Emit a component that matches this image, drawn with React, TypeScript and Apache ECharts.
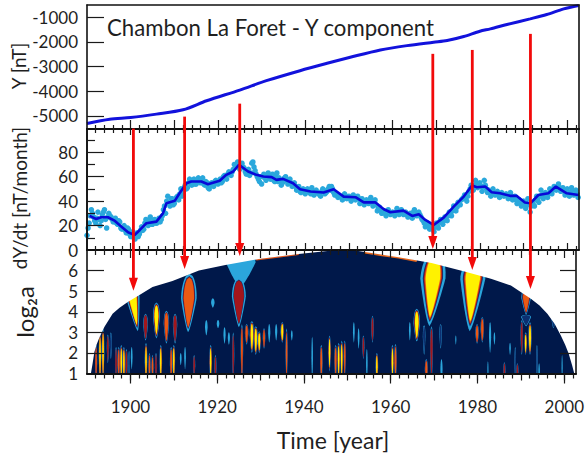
import React, { useEffect, useRef } from "react";
import * as echarts from "echarts";

const FONT = "Lato, 'Open Sans', sans-serif";
const INK = "#1f1f1f";
const X_MIN = 1890;
const X_MAX = 2002.7;

const yearLabels = [1900, 1920, 1940, 1960, 1980, 2000];
const decadeTicks = [1900, 1910, 1920, 1930, 1940, 1950, 1960, 1970, 1980, 1990, 2000];
const minorYearTicks = [1892, 1894, 1896, 1898, 1902, 1904, 1906, 1908, 1912, 1914, 1916, 1918, 1922, 1924, 1926, 1928, 1932, 1934, 1936, 1938, 1942, 1944, 1946, 1948, 1952, 1954, 1956, 1958, 1962, 1964, 1966, 1968, 1972, 1974, 1976, 1978, 1982, 1984, 1986, 1988, 1992, 1994, 1996, 1998, 2002];

const yTicks = [-5000, -4000, -3000, -2000, -1000];
const rateLabels = [0, 20, 40, 60, 80];
const rateLongTicks = [20, 40, 60, 80];
const rateShortTicks = [10, 30, 50, 70, 90];
const scaleLabels = [1, 2, 3, 4, 5, 6];
const scaleTicks = [2, 3, 4, 5, 6];

const yComponent: number[][] = [
  [1890, -5312], [1895.2, -5136], [1900, -5068], [1905.9, -4932], [1912, -4756], [1917.4, -4390],
  [1925, -3956], [1931.1, -3576], [1938.8, -3170], [1945, -2871], [1950.3, -2627], [1957.2, -2329],
  [1963.3, -2153], [1969.4, -2017], [1972.5, -1949], [1976.3, -1786], [1980, -1570], [1982.4, -1475],
  [1986.2, -1298], [1991.5, -1068], [1995.3, -892], [1999.2, -661], [2002.6, -525],
];

const rateSmooth: number[][] = [
  [1890.6, 27.9], [1892.1, 25.4], [1893.2, 26.8], [1894.8, 26.8], [1896.4, 23.8], [1897.9, 19.1], [1899.4, 14.5],
  [1900.9, 12.3], [1902.1, 16.4], [1903.6, 21.9], [1905.9, 23.2], [1907.4, 30], [1908.2, 38.3], [1910.1, 40.2],
  [1911.2, 46.4], [1912.8, 54.6], [1913.9, 56], [1916.2, 56], [1917.7, 53.8], [1920.4, 56.6], [1921.9, 61.5],
  [1923.5, 64.2], [1924.8, 69.7], [1926.9, 64.2], [1928.8, 61.5], [1930.4, 60.1], [1932.3, 59.6], [1933.4, 57.4],
  [1934.9, 58.2], [1937.2, 54.6], [1938.8, 49.7], [1941.2, 47.8], [1944.2, 47], [1946.5, 49.7], [1948.8, 43.7],
  [1951.5, 43.2], [1953.4, 39], [1956, 39], [1958, 33.3], [1959.5, 30.9], [1962.5, 32.2], [1964.5, 27.9],
  [1966, 29.2], [1967.5, 24.6], [1969.4, 20.5], [1971.7, 26.5], [1974, 35.5], [1976.3, 43.7], [1978.2, 52.7],
  [1979.3, 51.4], [1981.2, 51.9], [1982.7, 47.3], [1984.6, 46.4], [1986.9, 44.3], [1988.4, 44.3], [1990.3, 38.8],
  [1991.6, 38.3], [1993.4, 45], [1995.7, 46.4], [1997.4, 51.9], [1999.9, 46.4], [2002.6, 45],
];

// Half-yearly readings of the noisy monthly band, starting at 1890.0
const rateDots = [
  12, 22, 33, 27, 22, 31, 20, 29, 33, 18, 30, 27, 23, 26, 21, 23, 17, 20, 14, 17,
  11, 15, 9, 14, 13, 19, 17, 25, 20, 27, 21, 25, 22, 26, 25, 33, 30, 44, 36, 42,
  38, 43, 41, 50, 47, 53, 51, 58, 53, 58, 54, 59, 55, 59, 53, 55, 50, 55, 52, 57,
  54, 58, 56, 61, 58, 64, 61, 66, 68, 72, 66, 71, 67, 62, 66, 63, 72, 65, 60, 56,
  54, 62, 57, 63, 58, 62, 56, 63, 59, 53, 56, 60, 54, 58, 52, 55, 49, 52, 47, 50,
  46, 50, 47, 51, 45, 49, 46, 44, 50, 46, 48, 52, 52, 47, 46, 43, 44, 41, 46, 42,
  44, 40, 45, 41, 44, 38, 42, 37, 41, 38, 43, 36, 41, 32, 35, 30, 32, 28, 33, 29,
  31, 28, 34, 29, 33, 29, 31, 27, 30, 26, 33, 28, 31, 27, 24, 19, 22, 17, 20, 15,
  22, 18, 25, 21, 27, 24, 31, 28, 36, 32, 39, 37, 42, 45, 40, 48, 53, 49, 57, 51,
  55, 48, 57, 50, 49, 44, 50, 45, 48, 43, 47, 44, 46, 42, 47, 41, 44, 38, 41, 36,
  40, 34, 42, 31, 39, 36, 44, 39, 49, 42, 47, 43, 50, 46, 52, 49, 54, 48, 51, 45,
  50, 44, 51, 45, 49, 43,
];

// The same band read at the quarter years, starting at 1890.25
const rateDotsBetween = [
  18, 28, 30, 24, 26, 25, 24, 31, 25, 27, 28, 25, 25, 22, 24, 18, 19, 16, 18, 13,
  13, 10, 12, 11, 16, 16, 22, 21, 24, 21, 24, 22, 24, 23, 28, 36, 40, 38, 42, 37,
  41, 44, 46, 44, 51, 50, 55, 56, 57, 54, 57, 56, 58, 54, 56, 51, 53, 54, 56, 55,
  56, 55, 60, 59, 62, 62, 64, 70, 70, 69, 70, 68, 64, 65, 61, 71, 68, 62, 58, 60,
  60, 59, 61, 60, 60, 57, 60, 56, 57, 55, 59, 57, 56, 55, 54, 52, 50, 48, 49, 48,
  49, 48, 46, 48, 47, 47, 46, 48, 49, 47, 50, 49, 50, 45, 45, 44, 43, 44, 44, 43,
  42, 43, 43, 42, 42, 40, 40, 39, 39, 41, 40, 38, 37, 34, 33, 31, 30, 31, 31, 30,
  30, 31, 31, 31, 31, 30, 29, 28, 28, 31, 30, 29, 29, 25, 22, 22, 20, 18, 17, 19,
  20, 23, 23, 24, 25, 28, 30, 32, 34, 35, 38, 41, 43, 42, 44, 50, 51, 53, 54, 53,
  52, 52, 53, 47, 47, 47, 47, 46, 45, 45, 45, 45, 44, 44, 44, 43, 41, 40, 38, 38,
  37, 38, 37, 36, 37, 41, 42, 44, 45, 46, 45, 46, 48, 49, 51, 51, 51, 50, 48, 47,
  47, 47, 48, 47, 46,
];

// Edge of the cone of influence: year, log2 a
const domeEdge: number[][] = [
  [1890.9, 1], [1891.3, 1.5], [1891.7, 2.05], [1892.2, 2.4], [1892.9, 2.77], [1894, 3.26], [1895.9, 3.9], [1897.5, 4.2], [1899.4, 4.47],
  [1902, 4.8], [1905.1, 5.2], [1909.7, 5.5], [1915.8, 6], [1921.9, 6.27], [1929.6, 6.56], [1938.8, 6.8],
  [1946.5, 6.97], [1951.8, 6.97], [1961.8, 6.65], [1969.4, 6.37], [1977, 5.95], [1983.1, 5.6], [1987.7, 5.27],
  [1992.3, 4.63], [1994.3, 4.3], [1996.1, 3.9], [1997.8, 3.4], [1999.2, 2.85], [2000.2, 2.4], [2001, 1.97], [2001.8, 1.4], [2002.3, 1],
];
const edgeSliverLeft: number[][] = [[1929, 6.53], [1934, 6.66], [1938.8, 6.79]];
const edgeSliverRight: number[][] = [[1954, 6.88], [1958, 6.75], [1961.8, 6.64], [1966, 6.47]];

// year, log2 a bottom, log2 a top, half width (years), contour depth, widest point (0..1), lean of top (years)
const ridges: number[][] = [
  [1901.7, 3.05, 5.3, 1.6, 4, 0.75, -1.6],
  [1913.3, 3.0, 5.85, 1.8, 3, 0.57, 0.3],
  [1925.3, 5.2, 6.9, 3.4, 0, 0.7, 0.2],
  [1925, 3.25, 5.65, 1.6, 2, 0.61, 0],
  [1903.5, 2.6, 3.9, 0.55, 2, 0.6, 0],
  [1906, 2.7, 4.45, 0.8, 4, 0.6, 0],
  [1908.3, 2.45, 4.05, 0.62, 3, 0.6, 0],
  [1910.3, 2.45, 3.9, 0.5, 2, 0.6, 0],
  [1919, 4.2, 4.65, 0.4, 0, 0.5, 0],
  [1917.5, 2.85, 3.6, 0.3, 0, 0.5, 0],
  [1920.2, 3.2, 3.6, 0.3, 0, 0.5, 0],
  [1921.7, 2.45, 3.25, 0.25, 0, 0.5, 0],
  [1922.7, 2.4, 3, 0.25, 0, 0.5, 0],
  [1923.7, 0.6, 3, 0.25, 2, 0.5, 0],
  [1925.7, 0.6, 3.4, 0.3, 3, 0.55, 0],
  [1926.8, 2.4, 3.4, 0.4, 3, 0.55, 0],
  [1928, 2, 3.55, 0.5, 4, 0.55, 0],
  [1928.9, 1.9, 3.3, 0.45, 4, 0.55, 0],
  [1929.7, 2, 3.05, 0.4, 4, 0.55, 0],
  [1930.8, 2.2, 3.2, 0.3, 3, 0.5, 0],
  [1932, 2.5, 3.4, 0.25, 0, 0.5, 0],
  [1933.6, 2.6, 3.4, 0.25, 0, 0.5, 0],
  [1935, 2.5, 3.5, 0.4, 4, 0.5, 0],
  [1936, 0.6, 3.2, 0.25, 3, 0.5, 0],
  [1937.2, 2.6, 3.1, 0.2, 0, 0.5, 0],
  [1892.1, 0.6, 2.4, 0.25, 3, 0.5, 0],
  [1893, 0.6, 3.0, 0.3, 4, 0.5, 0],
  [1893.7, 0.7, 3.2, 0.3, 4, 0.5, 0],
  [1894.8, 1.5, 2.9, 0.25, 2, 0.5, 0],
  [1895.5, 1.7, 3, 0.25, 1, 0.5, 0],
  [1896.7, 0.6, 2.3, 0.25, 2, 0.5, 0],
  [1897.3, 0.6, 2.3, 0.3, 3, 0.5, 0],
  [1897.9, 0.6, 2.4, 0.3, 4, 0.5, 0],
  [1898.5, 0.6, 2.3, 0.3, 4, 0.5, 0],
  [1899.1, 0.6, 2.2, 0.25, 2, 0.5, 0],
  [1899.7, 0.8, 2.1, 0.2, 1, 0.5, 0],
  [1900.3, 1.2, 2.3, 0.2, 0, 0.5, 0],
  [1903.6, 0.6, 2.5, 0.3, 4, 0.5, 0],
  [1904.4, 0.6, 2, 0.25, 3, 0.5, 0],
  [1905.1, 0.6, 1.9, 0.25, 3, 0.5, 0],
  [1905.9, 0.6, 2, 0.25, 2, 0.5, 0],
  [1907, 0.6, 2.4, 0.3, 4, 0.5, 0],
  [1909.4, 0.6, 2.3, 0.3, 3, 0.5, 0],
  [1910, 0.6, 2.4, 0.3, 4, 0.55, 0],
  [1911.6, 1.4, 2, 0.2, 0, 0.5, 0],
  [1912.6, 1.2, 2.3, 0.2, 0, 0.5, 0],
  [1914.7, 0.8, 1.9, 0.25, 2, 0.5, 0],
  [1918.5, 0.6, 2.4, 0.3, 4, 0.5, 0],
  [1919.6, 0.6, 1.9, 0.25, 2, 0.5, 0],
  [1941.9, 0.6, 2.8, 0.18, 0, 0.5, 0],
  [1944, 0.6, 2.4, 0.3, 3, 0.5, 0],
  [1945.9, 1.1, 2.85, 0.3, 4, 0.5, 0],
  [1947.3, 0.6, 2.4, 0.3, 3, 0.55, 0],
  [1948, 0.6, 2.5, 0.3, 4, 0.55, 0],
  [1948.7, 0.6, 2.6, 0.3, 4, 0.55, 0],
  [1949.4, 0.8, 2.6, 0.25, 3, 0.55, 0],
  [1951.5, 2.5, 3.5, 0.2, 0, 0.5, 0],
  [1952.6, 2.2, 3.2, 0.2, 0, 0.5, 0],
  [1953.7, 1.7, 2.85, 0.25, 2, 0.5, 0],
  [1954.5, 0.6, 2.2, 0.18, 0, 0.5, 0],
  [1955.8, 2.5, 3.8, 0.3, 2, 0.5, 0],
  [1956.8, 0.6, 2, 0.3, 4, 0.5, 0],
  [1960.4, 0.6, 2.4, 0.3, 4, 0.5, 0],
  [1961.1, 0.6, 2.45, 0.3, 3, 0.5, 0],
  [1964.4, 2.6, 3.5, 0.2, 0, 0.5, 0],
  [1966, 2.55, 4.15, 0.75, 4, 0.55, 0],
  [1967.7, 1.9, 3.35, 0.3, 1, 0.6, 0],
  [1969.4, 0.6, 3.3, 0.35, 2, 0.6, 0],
  [1971.5, 2.2, 3.4, 0.3, 1, 0.6, 0],
  [1968.2, 0.6, 1.7, 0.35, 3, 0.5, 0],
  [1971.7, 0.6, 1.7, 0.25, 0, 0.5, 0],
  [1968.9, 3.3, 7, 2.9, 4, 0.62, 1.3],
  [1975, 2.4, 2.85, 0.13, 0, 0.5, 0],
  [1978.2, 3.05, 6.6, 2.9, 4, 0.72, 1.0],
  [1979.9, 2.45, 3.4, 0.4, 3, 0.5, 0],
  [1981.1, 2.5, 3.75, 0.4, 3, 0.5, 0],
  [1982.9, 2, 3.5, 0.25, 0, 0.5, 0],
  [1983.9, 2.4, 3, 0.18, 0, 0.5, 0],
  [1987.5, 1.9, 2.5, 0.18, 0, 0.5, 0],
  [1988.7, 0.6, 2.3, 0.18, 1, 0.5, 0],
  [1993.7, 0.6, 2.4, 0.18, 1, 0.5, 0],
  [1982.4, 0.6, 1.6, 0.13, 0, 0.5, 0],
  [1986.2, 0.6, 1.55, 0.25, 2, 0.5, 0],
  [1989.2, 0.6, 1.5, 0.25, 2, 0.5, 0],
  [1994.2, 0.6, 1.5, 0.18, 0, 0.5, 0],
  [1999.5, 0.6, 1.9, 0.13, 0, 0.5, 0],
  [1991.2, 3.85, 5.2, 1.1, 3, 0.6, 0],
  [1991.2, 3.3, 3.85, 1.15, 1, 0.8, 0],
  [1990.2, 1.9, 3.6, 0.3, 2, 0.5, 0],
  [1991.1, 1.9, 3, 0.3, 4, 0.5, 0],
  [1992.1, 1.9, 3.5, 0.4, 4, 0.5, 0],
  [1997.5, 3.2, 3.95, 0.45, 1, 0.6, 0],
];

const contourColors = ["#2ba6dc", "#0c2f70", "#a3161c", "#ea5a14", "#fff200"];
const contourScale = [1, 0.84, 0.74, 0.64, 0.54];
const broadContourScale = [1, 0.8, 0.73, 0.66, 0.58];

// Arrows, in log2 a units of the lowest panel (they run up across the panels): year, tail, tip
const arrows: number[][] = [
  [1900.7, 12.9, 5.02],
  [1912.5, 13.48, 6.08],
  [1925.2, 14.11, 6.71],
  [1969.7, 16.53, 7.05],
  [1978.8, 16.72, 6.03],
  [1992.2, 17.5, 5.11],
];

const TICK_COLOR = "#1a1a1a";
const line = { show: true, onZero: false, lineStyle: { color: "#111", width: 1.6 } };

function xAxis(gridIndex: number, position: string, values: number[], len: number, inside: boolean, labels?: number[]) {
  return {
    type: "value", gridIndex, position, min: X_MIN, max: X_MAX, z: 6,
    axisLine: line,
    splitLine: { show: false },
    axisTick: { show: values.length > 0, inside, length: len, customValues: values, lineStyle: { color: TICK_COLOR, width: 1.2 } },
    axisLabel: labels
      ? { show: true, customValues: labels, margin: 24, fontSize: 17, color: INK, fontFamily: FONT, formatter: (v: number) => String(v) }
      : { show: false },
  };
}

function yAxis(gridIndex: number, position: string, min: number, max: number, values: number[], len: number, labels?: number[]) {
  return {
    type: "value", gridIndex, position, min, max, z: 6,
    axisLine: line,
    splitLine: { show: false },
    axisTick: { show: values.length > 0, inside: true, length: len, customValues: values, lineStyle: { color: TICK_COLOR, width: 1.2 } },
    axisLabel: labels
      ? { show: true, customValues: labels, margin: 9, fontSize: 17, color: INK, fontFamily: FONT, formatter: (v: number) => String(v) }
      : { show: false },
  };
}

const NAVY = "#00184a";

function ridgeShape(api: any, year: number, lo: number, hi: number, hw: number, widest: number, lean: number, f: number) {
  const span = hi - lo;
  const lenF = 1 - (1 - f) * 0.45;
  const start = widest - widest * lenF;
  const end = widest + (1 - widest) * lenF;
  const tail = hw >= 1 ? 0.75 : 0.6;
  const left: number[][] = [];
  const right: number[][] = [];
  const steps = 24;
  for (let i = 0; i <= steps; i++) {
    const t = start + ((end - start) * i) / steps;
    const u = t <= widest ? (t - start) / (widest - start || 1) : (end - t) / (end - widest || 1);
    const w = hw * f * (t <= widest ? Math.pow(Math.max(u, 0), tail) : Math.sqrt(Math.max(u * (2 - u), 0)));
    const c = year + lean * t;
    const a = lo + span * t;
    left.push(api.coord([c - w, a]));
    right.unshift(api.coord([c + w, a]));
  }
  return left.concat(right);
}

const renderRidge = (_: any, api: any) => {
  const year = api.value(0), lo = api.value(1), hi = api.value(2), hw = api.value(3);
  const depth = api.value(4), widest = api.value(5), lean = api.value(6);
  const scale = hw >= 1.5 ? broadContourScale : contourScale;
  const children: any[] = [];
  for (let k = 0; k <= depth; k++) {
    children.push({
      type: "polygon",
      shape: { points: ridgeShape(api, year, lo, hi, hw, widest, lean, scale[k]) },
      style: { fill: contourColors[k] },
    });
  }
  return { type: "group", children };
};

const renderBackdrop = (_: any, api: any) => ({
  type: "polygon",
  shape: { points: [[X_MIN, 1], [X_MAX, 1], [X_MAX, 7], [X_MIN, 7]].map((p) => api.coord(p)) },
  style: { fill: NAVY },
});

const renderMask = (_: any, api: any) => ({
  type: "polygon",
  shape: {
    points: [[X_MIN, 1], ...domeEdge, [X_MAX, 1], [X_MAX, 7], [X_MIN, 7]].map((p) => api.coord(p)),
  },
  style: { fill: "#ffffff" },
});

const renderArrow = (_: any, api: any) => {
  const tail = api.coord([api.value(0), api.value(1)]);
  const tip = api.coord([api.value(0), api.value(2)]);
  return {
    type: "group",
    children: [
      { type: "line", shape: { x1: tail[0], y1: tail[1], x2: tip[0], y2: tip[1] - 8 }, style: { stroke: "#f20a0a", lineWidth: 2.8 } },
      {
        type: "polygon",
        shape: { points: [[tip[0] - 4.5, tip[1] - 13], [tip[0] + 4.5, tip[1] - 13], tip] },
        style: { fill: "#f20a0a" },
      },
    ],
  };
};

function axisTitle(text: string, x: number, y: number, fontSize: number, rotated = true) {
  return {
    type: "text", x, y, rotation: rotated ? Math.PI / 2 : 0, z: 20,
    style: { text, fontSize, fontFamily: FONT, fill: INK, textAlign: "center", textVerticalAlign: "middle" },
  };
}

export default function App() {
  const ref = useRef<HTMLDivElement>(null);
  useEffect(() => {
    const chart = echarts.init(ref.current!, undefined, { renderer: "svg" });
    const dotData = rateDots.map((v, i) => [1890 + i * 0.5, v]);
    const dotBetween = rateDotsBetween.map((v, i) => [1890.25 + i * 0.5, v]);
    chart.setOption({
      animation: false,
      backgroundColor: "#ffffff",
      title: {
        text: "Chambon La Foret - Y component",
        left: 102, top: 11,
        textStyle: { fontSize: 22.2, fontWeight: "normal", color: INK, fontFamily: FONT },
      },
      grid: [
        { left: 87, width: 492, top: 5, height: 124 },
        { left: 87, width: 492, top: 129, height: 121 },
        { left: 87, width: 492, top: 250, height: 123.5 },
      ],
      xAxis: [
        xAxis(0, "bottom", decadeTicks, 9, true),
        xAxis(1, "bottom", decadeTicks, 7, true),
        xAxis(2, "bottom", decadeTicks, 7, false),
        xAxis(0, "bottom", minorYearTicks, 4, true),
        xAxis(0, "top", [], 0, true),
        xAxis(1, "top", decadeTicks, 6, true),
        xAxis(1, "top", minorYearTicks, 4, true),
        xAxis(1, "bottom", minorYearTicks, 4, true),
        xAxis(2, "top", decadeTicks, 8, true),
        xAxis(2, "top", minorYearTicks, 5, true),
        xAxis(2, "bottom", minorYearTicks, 5, false),
        xAxis(2, "bottom", yearLabels, 10, false, yearLabels),
      ],
      yAxis: [
        yAxis(0, "left", -5535, -506, yTicks, 17, yTicks),
        yAxis(1, "left", 0, 99, rateLongTicks, 17, rateLabels),
        yAxis(2, "left", 1, 7, scaleTicks, 17, scaleLabels),
        yAxis(1, "left", 0, 99, rateShortTicks, 8),
        yAxis(0, "right", -5535, -506, [], 0),
        yAxis(1, "right", 0, 99, [], 0),
        yAxis(2, "right", 1, 7, scaleTicks, 16),
      ],
      series: [
        {
          type: "line", xAxisIndex: 0, yAxisIndex: 0, data: yComponent, smooth: 0.3, showSymbol: false, z: 3,
          lineStyle: { color: "#1212dc", width: 3 },
        },
        {
          type: "scatter", xAxisIndex: 1, yAxisIndex: 1, data: dotData, symbolSize: 5.5, z: 2,
          itemStyle: { color: "#2aa8dc", opacity: 1 },
        },
        {
          type: "scatter", xAxisIndex: 1, yAxisIndex: 1, data: dotBetween, symbolSize: 5.5, z: 2,
          itemStyle: { color: "#2aa8dc", opacity: 1 },
        },
        {
          type: "line", xAxisIndex: 1, yAxisIndex: 1, data: rateSmooth, showSymbol: false, z: 3,
          lineStyle: { color: "#0808d8", width: 2.6 },
        },
        {
          type: "custom", xAxisIndex: 2, yAxisIndex: 2, data: [[X_MIN, 1]], renderItem: renderBackdrop, z: 1, silent: true,
        },
        {
          type: "custom", xAxisIndex: 2, yAxisIndex: 2, data: ridges, renderItem: renderRidge, clip: true, z: 2, silent: true,
          encode: { x: 0, y: [1, 2] }, dimensions: ["year", "lo", "hi", "hw", "depth", "widest", "lean"],
        },
        {
          type: "line", xAxisIndex: 2, yAxisIndex: 2, data: edgeSliverLeft, showSymbol: false, z: 3,
          lineStyle: { color: "#e2561a", width: 1.6 },
        },
        {
          type: "line", xAxisIndex: 2, yAxisIndex: 2, data: edgeSliverRight, showSymbol: false, z: 3,
          lineStyle: { color: "#e8661a", width: 2 },
        },
        {
          type: "custom", xAxisIndex: 2, yAxisIndex: 2, data: [[X_MIN, 7]], renderItem: renderMask, z: 4, silent: true,
        },
        {
          type: "custom", xAxisIndex: 2, yAxisIndex: 2, data: arrows, renderItem: renderArrow, clip: false, z: 12, silent: true,
          encode: { x: 0, y: [1, 2] },
        },
      ],
      graphic: [
        axisTitle("Y [nT]", 18, 66, 19),
        axisTitle("dY/dt [nT/month]", 19, 198, 19),
        axisTitle("log₂a", 24, 312, 24),
        axisTitle("Time [year]", 333, 440, 23, false),
      ],
    });
    return () => chart.dispose();
  }, []);
  return (
    <div
      ref={ref}
      style={{ position: "absolute", left: 0, top: 0, width: 587, height: 454, background: "#fff" }}
    />
  );
}
